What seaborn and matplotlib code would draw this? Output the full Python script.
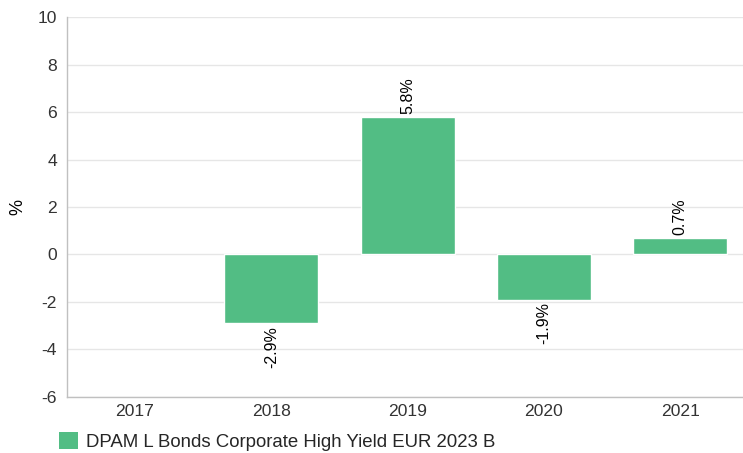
import matplotlib
matplotlib.use("Agg")
import matplotlib.pyplot as plt
from matplotlib.patches import Patch
import seaborn as sb
import pandas as pd

years = ["2017", "2018", "2019", "2020", "2021"]
bar_years = ["2018", "2019", "2020", "2021"]
returns = [-2.9, 5.8, -1.9, 0.7]
serie = "DPAM L Bonds Corporate High Yield EUR 2023 B"

verde = "#52bd84"

sb.set_style("white")
plt.rcParams["font.family"] = ["Liberation Sans", "DejaVu Sans"]
plt.rcParams["axes.unicode_minus"] = False

t = pd.DataFrame({"an": bar_years, "randament": returns})

fig = plt.figure(figsize=(7.43, 4.53), dpi=100)
ax = fig.add_axes([0.09, 0.124, 0.917, 0.838])
sb.barplot(data=t, x="an", y="randament", order=years, color=verde,
           width=0.69, saturation=1, ax=ax, zorder=3)

ax.set_ylim(-6, 10)
ax.set_xlim(-0.5, 4.5)
ax.set_yticks(range(-6, 11, 2))
ax.yaxis.grid(True, color="#e6e6e6", linewidth=1, zorder=0)
ax.set_axisbelow(True)
for s in ["top", "right"]:
    ax.spines[s].set_visible(False)
for s in ["left", "bottom"]:
    ax.spines[s].set_color("#c0c0c0")
    ax.spines[s].set_linewidth(1)
ax.tick_params(axis="both", length=0, labelsize=12.6, colors="#333333")
ax.tick_params(axis="y", pad=7)
ax.tick_params(axis="x", pad=5)
ax.set_xlabel("")
ax.set_ylabel("%", fontsize=13, color="black")
ax.yaxis.set_label_coords(-0.06, 0.5)

for an, v in zip(bar_years, returns):
    i = years.index(an)
    if v >= 0:
        ax.text(i, v + 0.1, f"{v:.1f}%", rotation=90, ha="center", va="bottom",
                fontsize=11.5, color="black")
    else:
        ax.text(i, v - 0.1, f"{v:.1f}%", rotation=90, ha="center", va="top",
                fontsize=11.5, color="black")

fig.legend(handles=[Patch(facecolor=verde, edgecolor="none", label=serie)],
           loc="center left", bbox_to_anchor=(0.07, 0.025), frameon=False,
           borderaxespad=0, fontsize=13.4, handlelength=0.97, handleheight=0.97,
           handletextpad=0.45)

fig.savefig("out.png", dpi=100)
